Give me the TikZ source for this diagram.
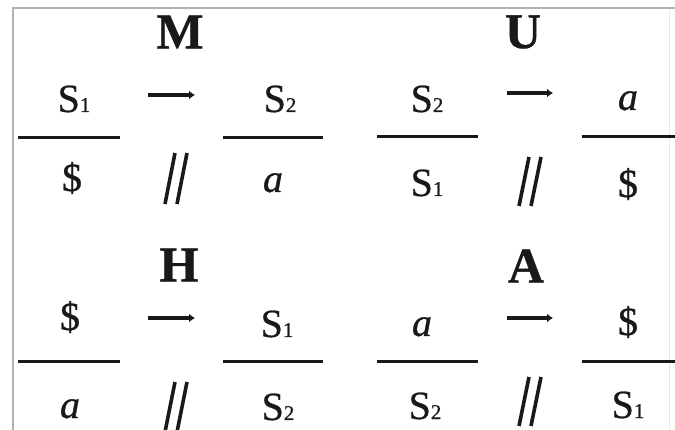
\documentclass[tikz,border=0pt]{standalone}
\usepackage{fontspec}
\setmainfont{Liberation Serif}[FakeBold=0.7]
\usetikzlibrary{arrows.meta}
\definecolor{ink}{RGB}{25,25,25}
\definecolor{frame}{RGB}{178,178,178}
\definecolor{faint}{RGB}{232,232,232}
\newcommand{\sdig}[1]{{\fontsize{21}{21}\selectfont #1}}
\begin{document}
\begin{tikzpicture}[x=1pt,y=-1pt,
  txt/.style={font=\fontsize{40}{40}\selectfont, text=ink, inner sep=0pt, anchor=base},
  lab/.style={font=\fontsize{50}{50}\selectfont\bfseries, text=ink, inner sep=0pt, anchor=center},
  fracline/.style={draw=ink, line width=3pt},
  arr/.style={draw=ink, line width=4pt, -{Latex[length=6pt,width=9pt]}},
  slashline/.style={draw=ink, line width=3.6pt},
  framel/.style={draw=frame, line width=2pt}]
\useasboundingbox (0,0) rectangle (675,430);
% frame
\coordinate (fA) at (13,430); \coordinate (fB) at (13,8); \coordinate (fC) at (675,8);
\draw[framel] (fA) -- (fB) -- (fC);
\coordinate (fD) at (669,10); \coordinate (fE) at (669,430);
\draw[draw=faint, line width=1pt] (fD) -- (fE);

% ---------- top left (M)
\node[lab] (M) at (180,32) {M};
\node[txt] (tlN1) at (74,112) {S\sdig{1}};
\node[txt] (tlD1) at (72,191) {\$};
\coordinate (tlL1a) at (18,138); \coordinate (tlL1b) at (120,138);
\draw[fracline] (tlL1a) -- (tlL1b);
\coordinate (tlAa) at (148,95); \coordinate (tlAb) at (195,95);
\draw[arr] (tlAa) -- (tlAb);
\coordinate (tlS1a) at (175,153); \coordinate (tlS1b) at (165,204);
\coordinate (tlS2a) at (187,153); \coordinate (tlS2b) at (177,204);
\draw[slashline] (tlS1a) -- (tlS1b);
\draw[slashline] (tlS2a) -- (tlS2b);
\node[txt] (tlN2) at (280,112) {S\sdig{2}};
\node[txt] (tlD2) at (273,192) {\textit{a}};
\coordinate (tlL2a) at (223,138); \coordinate (tlL2b) at (323,138);
\draw[fracline] (tlL2a) -- (tlL2b);

% ---------- top right (U)
\node[lab] (U) at (523,32) {U};
\node[txt] (trN1) at (427,112) {S\sdig{2}};
\node[txt] (trD1) at (427,196) {S\sdig{1}};
\coordinate (trL1a) at (377,137); \coordinate (trL1b) at (478,137);
\draw[fracline] (trL1a) -- (trL1b);
\coordinate (trAa) at (507,93); \coordinate (trAb) at (553,93);
\draw[arr] (trAa) -- (trAb);
\coordinate (trS1a) at (529,157); \coordinate (trS1b) at (519,206);
\coordinate (trS2a) at (541,157); \coordinate (trS2b) at (531,206);
\draw[slashline] (trS1a) -- (trS1b);
\draw[slashline] (trS2a) -- (trS2b);
\node[txt] (trN2) at (628,110) {\textit{a}};
\node[txt] (trD2) at (628,197) {\$};
\coordinate (trL2a) at (582,137); \coordinate (trL2b) at (675,137);
\draw[fracline] (trL2a) -- (trL2b);

% ---------- bottom left (H)
\node[lab] (H) at (179,265) {H};
\node[txt] (blN1) at (70,330) {\$};
\node[txt] (blD1) at (70,418) {\textit{a}};
\coordinate (blL1a) at (18,362); \coordinate (blL1b) at (120,362);
\draw[fracline] (blL1a) -- (blL1b);
\coordinate (blAa) at (148,318); \coordinate (blAb) at (195,318);
\draw[arr] (blAa) -- (blAb);
\coordinate (blS1a) at (175,382); \coordinate (blS1b) at (165,432);
\coordinate (blS2a) at (187,382); \coordinate (blS2b) at (177,432);
\draw[slashline] (blS1a) -- (blS1b);
\draw[slashline] (blS2a) -- (blS2b);
\node[txt] (blN2) at (277,337) {S\sdig{1}};
\node[txt] (blD2) at (278,420) {S\sdig{2}};
\coordinate (blL2a) at (223,362); \coordinate (blL2b) at (323,362);
\draw[fracline] (blL2a) -- (blL2b);

% ---------- bottom right (A)
\node[lab] (A) at (526,266) {A};
\node[txt] (brN1) at (422,336) {\textit{a}};
\node[txt] (brD1) at (425,419) {S\sdig{2}};
\coordinate (brL1a) at (377,362); \coordinate (brL1b) at (478,362);
\draw[fracline] (brL1a) -- (brL1b);
\coordinate (brAa) at (507,318); \coordinate (brAb) at (553,318);
\draw[arr] (brAa) -- (brAb);
\coordinate (brS1a) at (529,377); \coordinate (brS1b) at (519,426);
\coordinate (brS2a) at (541,377); \coordinate (brS2b) at (531,426);
\draw[slashline] (brS1a) -- (brS1b);
\draw[slashline] (brS2a) -- (brS2b);
\node[txt] (brN2) at (628,335) {\$};
\node[txt] (brD2) at (628,418) {S\sdig{1}};
\coordinate (brL2a) at (582,362); \coordinate (brL2b) at (675,362);
\draw[fracline] (brL2a) -- (brL2b);
\end{tikzpicture}
\end{document}
